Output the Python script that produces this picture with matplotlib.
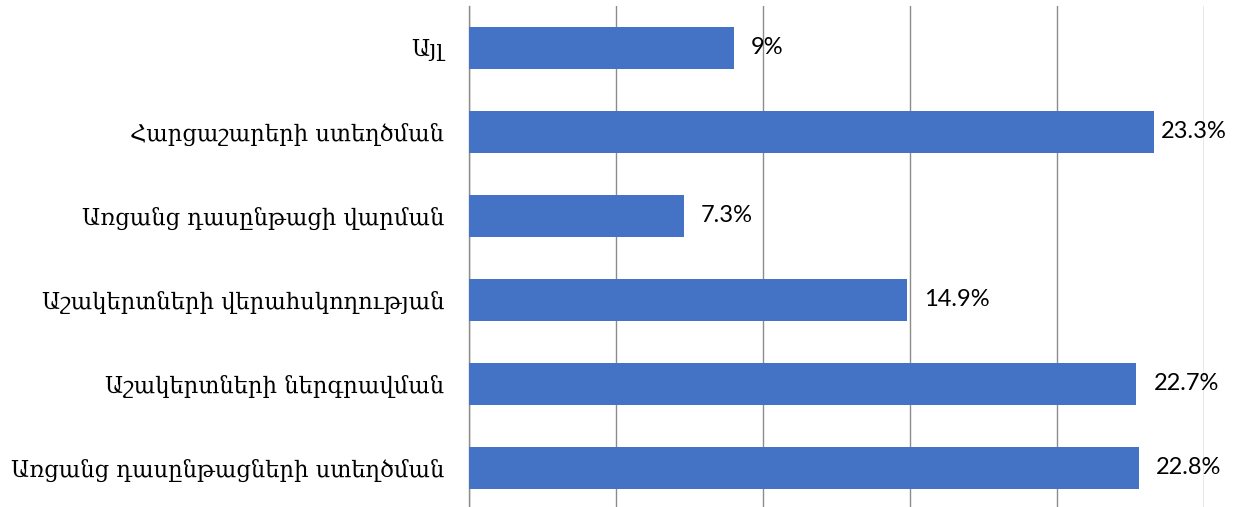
import matplotlib
matplotlib.use('Agg')
import matplotlib.pyplot as plt

categories = [
    'Առցանց դասընթացների ստեղծման',
    'Աշակերտների ներգրավման',
    'Աշակերտների վերահսկողության',
    'Առցանց դասընթացի վարման',
    'Հարցաշարերի ստեղծման',
    'Այլ',
]
values = [22.8, 22.7, 14.9, 7.3, 23.3, 9]
value_labels = ['22.8%', '22.7%', '14.9%', '7.3%', '23.3%', '9%']

W, H = 1242, 507
fig = plt.figure(figsize=(W / 100, H / 100), dpi=100)
ax = fig.add_axes([469 / W, -3 / H, (1204 - 469) / W, 504.5 / H])

ypos = list(range(len(categories)))
ax.barh(ypos, values, height=0.5, color='#4472C4', zorder=3)

# labels sit just past the bar end, but are kept inside the plot on the right
for y, v, lab in zip(ypos, values, value_labels):
    ax.text(min(v + 0.58, 23.55), y, lab, va='center', ha='left', fontsize=17,
            family='Lato', color='black', zorder=4)

ax.set_xlim(0, 25)
ax.set_ylim(-0.5, len(categories) - 0.5)
ax.set_xticks([0, 5, 10, 15, 20, 25])
ax.set_xticklabels([])
ax.tick_params(axis='x', length=0)
ax.grid(axis='x', color='#8c8c8c', linewidth=1, zorder=0)

ax.set_yticks(ypos)
ax.set_yticklabels(categories, family='DejaVu Serif', fontsize=16.3)
ax.tick_params(axis='y', length=0, pad=18)

for side in ['top', 'right', 'bottom']:
    ax.spines[side].set_visible(False)
ax.spines['left'].set_color('#8c8c8c')
ax.spines['left'].set_linewidth(1)

fig.savefig('out.png', dpi=100)
